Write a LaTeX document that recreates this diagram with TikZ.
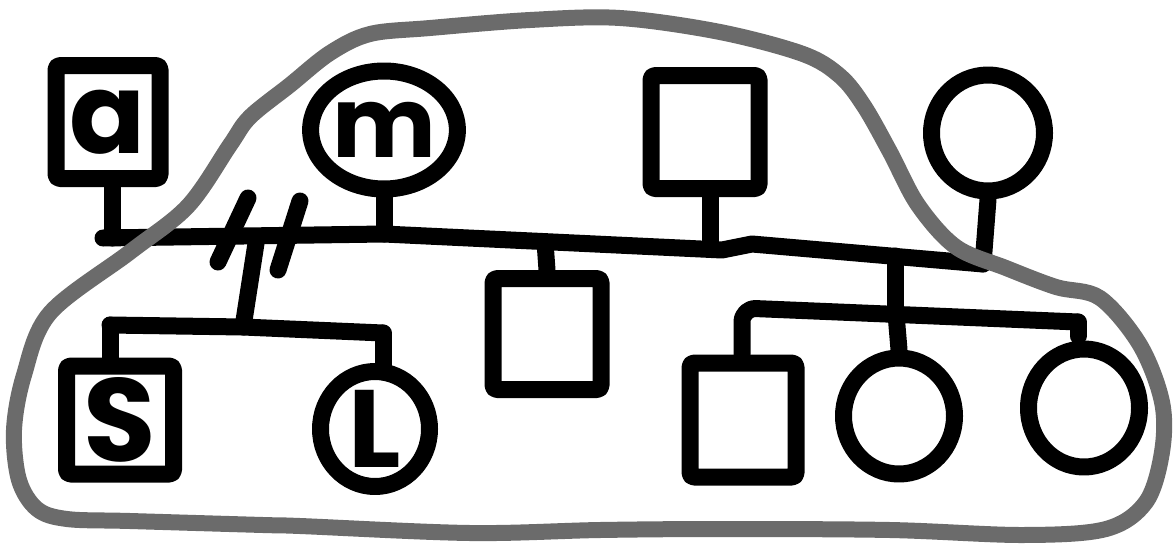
\documentclass[tikz,border=0pt]{standalone}
\usepackage{fontspec}
\setmainfont{Poppins}
\usetikzlibrary{shapes.geometric}
\definecolor{blobgray}{HTML}{6B6B6B}
\newcommand\pedletter[2]{{\fontsize{#1}{#1}\selectfont\bfseries #2}}
\tikzset{
  pen/.style={line width=17pt, line cap=round, line join=round},
  person/.style={pen, draw=black, inner sep=0pt},
  male/.style={person, rectangle, rounded corners=4pt},
  female/.style={person, ellipse},
  link/.style={pen, draw=black},
  outline/.style={line width=16pt, draw=blobgray, line cap=round, line join=round}
}
\begin{document}
\begin{tikzpicture}[x=1pt,y=-1pt]
\useasboundingbox (0,0) rectangle (1173,552);
% persons
\node[male, minimum width=104pt, minimum height=113pt] (sqA) at (108,122) {\pedletter{112pt}{a}};
\node[female, minimum width=111pt, minimum height=118pt] (cM) at (384,130) {\pedletter{98pt}{m}};
\node[male, minimum width=108pt, minimum height=113pt] (sqT) at (705,132) {};
\node[female, minimum width=113pt, minimum height=116pt] (cT) at (988,133) {};
\node[male, minimum width=108pt, minimum height=111pt] (sqMid) at (547,334) {};
\node[male, minimum width=107pt, minimum height=108pt] (sqS) at (120,420) {\pedletter{118pt}{S}};
\node[female, minimum width=109pt, minimum height=115pt] (cL) at (375,429) {\pedletter{110pt}{L}};
\node[male, minimum width=106pt, minimum height=114pt] (sqB) at (743,420) {};
\node[female, minimum width=111pt, minimum height=116pt] (cB1) at (899,416) {};
\node[female, minimum width=111pt, minimum height=118pt] (cB2) at (1084,408) {};
% marriage lines
\coordinate (L0) at (103,238);
\coordinate (jA) at (112,238);
\coordinate (jM) at (384,234);
\coordinate (jMid) at (545,242);
\coordinate (jT) at (710,248);
\coordinate (L1) at (722,250);
\coordinate (L2) at (752,244);
\coordinate (jC2) at (895,256);
\coordinate (jT2) at (983,264);
\draw[link] (L0) -- (jM) -- (L1) -- (L2) -- (jT2);
\draw[link] (sqA.south -| jA) -- (jA);
\draw[link] (cM.south) -- (jM);
\draw[link] (sqT.south -| jT) -- (jT);
\draw[link] (cT.south) -- (jT2);
% divorce marks
\coordinate (d1a) at (248,198); \coordinate (d1b) at (218,262);
\coordinate (d2a) at (300,201); \coordinate (d2b) at (278,270);
\draw[link] (d1a) -- (d1b);
\draw[link] (d2a) -- (d2b);
% first sibship
\coordinate (c1) at (257,237);
\coordinate (s1) at (243,327);
\coordinate (s1L) at (110,325);
\coordinate (s1R) at (383,333);
\draw[link] (c1) -- (s1);
\draw[link] (s1L) -- (s1) -- (s1R);
\draw[link] (s1L) -- (s1L |- sqS.north);
\draw[link] (s1R) -- ([yshift=-2pt]s1R |- cL.north);
% middle child
\draw[link] (jMid) -- (sqMid.north);
% second sibship
\coordinate (s2L) at (742,308);
\coordinate (s2M) at (896,314);
\coordinate (s2R) at (1078,322);
\draw[link] (jC2) -- (jC2 |- s2M);
\draw[link, rounded corners=14pt] (s2L |- sqB.north) -- (s2L) -- (s2R);
\draw[link] (s2R) -- ++(0,14);
\draw[link] (s2M) -- (cB1.north);
% household outline
\draw[outline] plot[smooth cycle, tension=0.55] coordinates {
  (330,53) (370,34) (430,28) (530,20) (620,18) (720,32) (803,54) (840,76) (864,106)
  (890,152) (918,205) (956,247) (1006,268) (1056,287) (1100,298) (1140,345)
  (1162,402) (1162,452) (1146,502) (1106,529) (1023,535) (890,530) (723,529)
  (600,530) (470,533) (300,526) (263,525) (130,521) (67,519) (37,509)
  (19,480) (14,430) (24,375) (50,313) (130,252) (188,206) (230,145) (250,117) (290,85)};
\end{tikzpicture}
\end{document}
